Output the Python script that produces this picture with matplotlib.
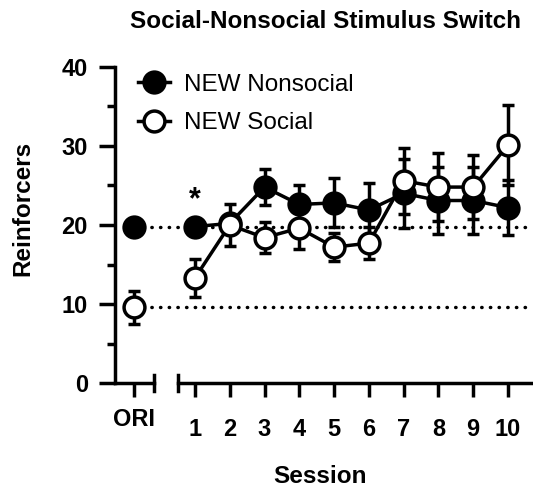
import matplotlib
matplotlib.use("Agg")
import matplotlib.pyplot as plt
from matplotlib.lines import Line2D
from matplotlib.ticker import MultipleLocator

plt.rcParams['font.family'] = ['Liberation Sans', 'DejaVu Sans']

# data
sessions = [1, 2, 3, 4, 5, 6, 7, 8, 9, 10]
session_labels = ['1', '2', '3', '4', '5', '6', '7', '8', '9', '10']

nonsocial_mean = [19.8, 20.2, 24.8, 22.6, 22.8, 21.9, 24.0, 23.1, 23.1, 22.2]
nonsocial_sem = [0.8, 0.9, 2.3, 2.4, 3.1, 3.4, 4.4, 4.3, 4.3, 3.5]
social_mean = [13.3, 20.0, 18.4, 19.6, 17.2, 17.7, 25.6, 24.8, 24.8, 30.1]
social_sem = [2.4, 2.6, 2.0, 2.6, 1.8, 2.0, 4.2, 4.3, 4.0, 5.1]

ori_nonsocial = 19.7
ori_nonsocial_sem = 0.5
ori_social = 9.6
ori_social_sem = 2.1

ori_x = -0.75  # where the ORI point sits on the session scale
lw = 2.5
fs = 17.5

fig = plt.figure(figsize=(5.33, 4.86), dpi=100)
ax = fig.add_axes([115 / 533, 1 - 383 / 486, 1 - 115 / 533, (383 - 67) / 486])

ax.set_xlim(-1.30, 10.72)
ax.set_ylim(0, 40)

# reference dotted lines from the ORI values
dots = dict(color='black', lw=lw, linestyle=(0, (0.1, 2.4)), dash_capstyle='round', zorder=1)
ax.plot([ori_x, 10.72], [ori_nonsocial, ori_nonsocial], clip_on=False, **dots)
ax.plot([ori_x, 10.72], [ori_social, ori_social], clip_on=False, **dots)

eb = dict(color='black', lw=lw, elinewidth=lw, capsize=4.5, capthick=lw,
          markersize=15, markeredgewidth=lw, markeredgecolor='black')

# nonsocial (filled)
ax.errorbar(sessions, nonsocial_mean, yerr=nonsocial_sem, fmt='-o',
            markerfacecolor='black', zorder=3, **eb)
ax.errorbar([ori_x], [ori_nonsocial], yerr=[ori_nonsocial_sem], fmt='o',
            markerfacecolor='black', zorder=3, **eb)

# social (open)
ax.errorbar(sessions, social_mean, yerr=social_sem, fmt='-o',
            markerfacecolor='white', zorder=4, **eb)
ax.errorbar([ori_x], [ori_social], yerr=[ori_social_sem], fmt='o',
            markerfacecolor='white', zorder=4, **eb)

ax.text(1, 23.1, '*', ha='center', va='center', fontsize=22, fontweight='bold')

# spines / broken x axis
for s in ['top', 'right', 'bottom']:
    ax.spines[s].set_visible(False)
ax.spines['left'].set_linewidth(lw)
ax.spines['left'].set_bounds(0, 40)

axis_kw = dict(color='black', lw=lw, clip_on=False, solid_capstyle='projecting', zorder=5)
ax.plot([-1.30, -0.18], [0, 0], **axis_kw)
ax.plot([-0.18, -0.18], [-1.07, 1.07], color='black', lw=lw, clip_on=False, zorder=5)
ax.plot([0.51, 10.72], [0, 0], **axis_kw)
ax.plot([0.51, 0.51], [-1.07, 1.07], color='black', lw=lw, clip_on=False, zorder=5)

ax.set_xticks(sessions + [ori_x])
ax.set_xticklabels(session_labels + [''])
ax.tick_params(axis='x', length=10, width=lw, pad=15, labelsize=17)
for lab in ax.get_xticklabels():
    lab.set_fontweight('bold')
ax.text(ori_x, -3.2, 'ORI', ha='center', va='top', fontsize=17, fontweight='bold')

ax.yaxis.set_major_locator(MultipleLocator(10))
ax.yaxis.set_minor_locator(MultipleLocator(5))
ax.tick_params(axis='y', which='major', length=11.5, width=lw, pad=8, labelsize=17)
ax.tick_params(axis='y', which='minor', length=6, width=lw)
for lab in ax.get_yticklabels():
    lab.set_fontweight('bold')

fig.text(23 / 533, 1 - 208 / 486, 'Reinforcers', rotation=90, ha='center', va='center',
         fontsize=fs, fontweight='bold')
fig.text(320 / 533, 1 - 476 / 486, 'Session', ha='center', va='center',
         fontsize=fs, fontweight='bold')
fig.text(326 / 533, 1 - 21 / 486, 'Social-Nonsocial Stimulus Switch', ha='center', va='center',
         fontsize=fs, fontweight='bold')

handles = [
    Line2D([], [], color='black', lw=lw, marker='o', markersize=15, markeredgewidth=lw,
           markerfacecolor='black', markeredgecolor='black'),
    Line2D([], [], color='black', lw=lw, marker='o', markersize=15, markeredgewidth=lw,
           markerfacecolor='white', markeredgecolor='black'),
]
ax.legend(handles, ['NEW Nonsocial', 'NEW Social'], loc='upper left',
          bbox_to_anchor=(0.031, 1.01), frameon=False, fontsize=fs,
          handlelength=1.35, handletextpad=0.55, labelspacing=0.68, borderaxespad=0)

fig.savefig('out.png', dpi=100)
